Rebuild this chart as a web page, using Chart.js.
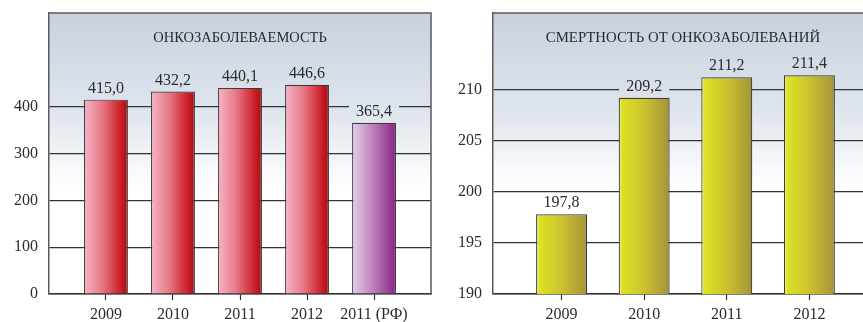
<!DOCTYPE html>
<html>
<head>
<meta charset="utf-8">
<script src="https://cdn.jsdelivr.net/npm/chart.js@4/dist/chart.umd.min.js"></script>
<style>
  body { margin: 0; width: 863px; height: 322px; overflow: hidden; background: #fff; position: relative; }
  canvas { position: absolute; top: 0; }
</style>
</head>
<body>
<canvas id="incidence" width="432" height="322" style="left:0"></canvas>
<canvas id="mortality" width="441" height="322" style="left:432px"></canvas>
<script>
// онкозаболеваемость
const incidenceTitle = 'ОНКОЗАБОЛЕВАЕМОСТЬ';
const incidenceLabels = ['2009', '2010', '2011', '2012', '2011 (РФ)'];
const incidenceValues = [415.0, 432.2, 440.1, 446.6, 365.4];
const incidenceTicks = [0, 100, 200, 300, 400];

// смертность
const mortalityTitle = 'СМЕРТНОСТЬ ОТ ОНКОЗАБОЛЕВАНИЙ';
const mortalityLabels = ['2009', '2010', '2011', '2012'];
const mortalityValues = [197.8, 209.2, 211.2, 211.4];
const mortalityTicks = [190, 195, 200, 205, 210];

const red = [[0, '#f7b3c5'], [0.4, '#e67b89'], [0.85, '#cb1c24'], [1, '#9c1118']];
const purple = [[0, '#e3d0e8'], [0.5, '#bb7dbb'], [0.95, '#8c2c8a'], [1, '#6e2070']];
const yellow = [[0, '#eeee9a'], [0.07, '#dde122'], [0.5, '#cbc230'], [0.95, '#a89838'], [1, '#8a7c2c']];

Chart.defaults.font.family = "'Liberation Serif', 'DejaVu Serif', serif";
Chart.defaults.font.size = 16;
Chart.defaults.color = '#2b2b2b';

function fmt(v) {
  return v.toFixed(1).replace('.', ',');
}

function noPad(s) {
  s.paddingTop = 0;
  s.paddingBottom = 0;
  s.paddingLeft = 0;
  s.paddingRight = 0;
}

const panel = {
  id: 'panel',
  beforeDraw(chart, args, opts) {
    const a = chart.chartArea, ctx = chart.ctx;
    const g = ctx.createLinearGradient(0, a.top, 0, a.bottom);
    g.addColorStop(0, '#c7d1de');
    g.addColorStop(0.35, '#dfe5ed');
    g.addColorStop(0.62, '#ffffff');
    g.addColorStop(1, '#ffffff');
    chart.$bg = g;
    ctx.save();
    ctx.fillStyle = g;
    ctx.fillRect(a.left, a.top, a.right - a.left, a.bottom - a.top);
    ctx.restore();
  },
  afterDraw(chart, args, opts) {
    const a = chart.chartArea, ctx = chart.ctx;
    ctx.save();
    // рамка
    ctx.strokeStyle = '#5a5a5a';
    ctx.lineWidth = 1.5;
    ctx.beginPath();
    ctx.moveTo(a.left, a.top);
    ctx.lineTo(a.right, a.top);
    if (opts.rightBorder) ctx.lineTo(a.right, a.bottom);
    ctx.stroke();
    // заголовок
    ctx.fillStyle = '#2b2b2b';
    ctx.font = opts.titleFont;
    ctx.textAlign = 'center';
    ctx.textBaseline = 'alphabetic';
    ctx.fillText(opts.title, (a.left + a.right) / 2, 42);
    // подписи значений
    ctx.font = "16px 'Liberation Serif', serif";
    const meta = chart.getDatasetMeta(0);
    meta.data.forEach((bar, i) => {
      const txt = fmt(chart.data.datasets[0].data[i].y);
      const w = ctx.measureText(txt).width;
      const base = bar.y - 7;
      ctx.fillStyle = chart.$bg;
      ctx.fillRect(bar.x - w / 2 - 7, base - 14, w + 14, 18);
      ctx.fillStyle = '#2b2b2b';
      ctx.fillText(txt, bar.x, base);
    });
    ctx.restore();
  }
};

function makeChart(id, cfg) {
  const barPct = cfg.barPct;
  const fill = ctx => {
    const chart = ctx.chart, xs = chart.scales.x;
    const stops = cfg.colors[ctx.dataIndex] || cfg.colors[0];
    if (!chart.chartArea || !xs || ctx.type !== 'data') return stops[1][1];
    const c = xs.getPixelForValue(ctx.dataIndex);
    const half = (xs.getPixelForValue(1) - xs.getPixelForValue(0)) * barPct / 2;
    const g = chart.ctx.createLinearGradient(c - half, 0, c + half, 0);
    stops.forEach(s => g.addColorStop(s[0], s[1]));
    return g;
  };
  return new Chart(document.getElementById(id), {
    type: 'bar',
    data: {
      datasets: [{
        data: cfg.values.map((v, i) => ({ x: i, y: v })),
        backgroundColor: fill,
        borderColor: '#3c3c3c',
        borderWidth: 1.2,
        categoryPercentage: 1,
        barPercentage: barPct
      }]
    },
    options: {
      responsive: false,
      animation: false,
      layout: { padding: { top: 13, right: cfg.padRight, left: 0, bottom: 0 } },
      plugins: {
        legend: { display: false },
        tooltip: { enabled: false },
        panel: { title: cfg.title, titleFont: cfg.titleFont, rightBorder: cfg.rightBorder }
      },
      scales: {
        x: {
          type: 'linear',
          min: cfg.xMin,
          max: cfg.xMax,
          offset: false,
          z: 1,
          afterBuildTicks: s => { s.ticks = cfg.labels.map((_, i) => ({ value: i })); },
          afterFit: s => { s.height = 28; noPad(s); },
          ticks: { callback: v => cfg.labels[v], autoSkip: false, maxRotation: 0, padding: 5 },
          grid: { offset: false, drawOnChartArea: false, drawTicks: true, tickLength: 6, tickColor: '#333', tickWidth: 1.2 },
          border: { color: '#333', width: 1.5 }
        },
        y: {
          min: cfg.yMin,
          max: cfg.yMax,
          z: 1,
          afterBuildTicks: s => { s.ticks = cfg.ticks.map(v => ({ value: v })); },
          afterFit: s => { s.width = cfg.yWidth; noPad(s); },
          ticks: { padding: 11 },
          grid: { color: '#333', lineWidth: 1.2, drawTicks: false },
          border: { color: '#5a5a5a', width: 1.5 }
        }
      }
    },
    plugins: [panel]
  });
}

makeChart('incidence', {
  title: incidenceTitle,
  titleFont: "14.5px 'Liberation Serif', serif",
  labels: incidenceLabels,
  values: incidenceValues,
  ticks: incidenceTicks,
  colors: [red, red, red, red, purple],
  barPct: 0.655,
  xMin: -0.85, xMax: 4.85,
  yMin: 0, yMax: 600,
  yWidth: 49, padRight: 1,
  rightBorder: true
});

makeChart('mortality', {
  title: mortalityTitle,
  titleFont: "14.8px 'Liberation Serif', serif",
  labels: mortalityLabels,
  values: mortalityValues,
  ticks: mortalityTicks,
  colors: [yellow],
  barPct: 0.617,
  xMin: -0.83, xMax: 3.77,
  yMin: 190, yMax: 217.5,
  yWidth: 61, padRight: 0,
  rightBorder: false
});
</script>
</body>
</html>
